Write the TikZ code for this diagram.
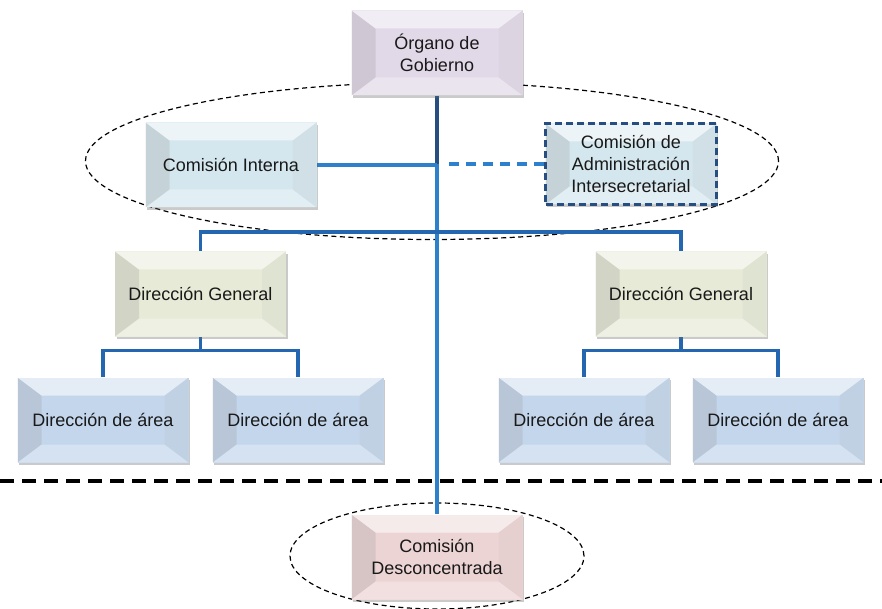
\documentclass[tikz,border=0pt]{standalone}
\usepackage{fontspec}
\setmainfont{Liberation Sans}
\usetikzlibrary{shapes.geometric,shadows,backgrounds}
\definecolor{cOG}{HTML}{E2D9E8}
\definecolor{cCI}{HTML}{D5E7EE}
\definecolor{cDG}{HTML}{E6EAD6}
\definecolor{cDA}{HTML}{C4D6EC}
\definecolor{cCD}{HTML}{EDD4D4}
\definecolor{lineblue}{HTML}{2C80CC}
\definecolor{busblue}{HTML}{2466B0}
\definecolor{navy}{HTML}{264E80}
\tikzset{
  box/.style={rectangle, minimum width=171pt, minimum height=85pt, inner sep=2pt,
    align=center, text=black!90, font=\fontsize{18}{22}\selectfont,
    fill=#1, drop shadow={shadow xshift=1.5pt, shadow yshift=-2.5pt, opacity=0.35, fill=black!60},
    path picture={
      \fill[black!40, opacity=0.25] (path picture bounding box.south west) -- (path picture bounding box.north west)
        -- ([xshift=24pt,yshift=-18pt]path picture bounding box.north west)
        -- ([xshift=24pt,yshift=18pt]path picture bounding box.south west) -- cycle;
      \fill[white, opacity=0.55] (path picture bounding box.north west) -- (path picture bounding box.north east)
        -- ([xshift=-24pt,yshift=-18pt]path picture bounding box.north east)
        -- ([xshift=24pt,yshift=-18pt]path picture bounding box.north west) -- cycle;
      \fill[black!30, opacity=0.12] (path picture bounding box.north east) -- (path picture bounding box.south east)
        -- ([xshift=-24pt,yshift=18pt]path picture bounding box.south east)
        -- ([xshift=-24pt,yshift=-18pt]path picture bounding box.north east) -- cycle;
      \fill[white, opacity=0.3] (path picture bounding box.south west) -- (path picture bounding box.south east)
        -- ([xshift=-24pt,yshift=18pt]path picture bounding box.south east)
        -- ([xshift=24pt,yshift=18pt]path picture bounding box.south west) -- cycle;
    }},
  conn/.style={draw=lineblue, line width=3.6pt},
  bus/.style={draw=busblue, line width=3.6pt},
  dashconn/.style={draw=lineblue, line width=3.6pt, dash pattern=on 10pt off 7pt},
  group/.style={ellipse, draw=black, line width=1.2pt, dash pattern=on 5pt off 3.5pt, inner sep=0pt},
  sep/.style={draw=black, line width=3.6pt, dash pattern=on 14pt off 8pt}
}
\begin{document}
\begin{tikzpicture}[x=1pt, y=-1pt]
\useasboundingbox (0,0) rectangle (882,609);
% boxes
\node[box=cOG] (og) at (437,53) {Órgano de\\Gobierno};
\node[box=cCI] (ci) at (231,165) {Comisión Interna};
\node[box=cCI, minimum height=81pt, draw=navy, line width=2.4pt, dash pattern=on 7pt off 4pt] (cai) at (631,164) {Comisión de\\Administración\\Intersecretarial};
\node[box=cDG] (dg1) at (200.5,294) {Dirección General};
\node[box=cDG] (dg2) at (681,294) {Dirección General};
\node[box=cDA] (da1) at (103,420) {Dirección de área};
\node[box=cDA] (da2) at (298,420) {Dirección de área};
\node[box=cDA] (da3) at (584,420) {Dirección de área};
\node[box=cDA] (da4) at (778,420) {Dirección de área};
\node[box=cCD] (cd) at (437,557) {Comisión\\Desconcentrada};
\begin{scope}[on background layer]
  % groups
  \node[group, minimum width=693pt, minimum height=157pt] (g1) at (432,161) {};
  \node[group, minimum width=294pt, minimum height=106pt] (g2) at (437,556) {};
  % separator
  \coordinate (sl) at (0,481);
  \coordinate (sr) at (882,481);
  \draw[sep] (sl) -- (sr);
  % connectors
  \draw[conn] (og.south) -- (cd.north);
  \draw[draw=navy, line width=3.6pt] (og.south) -- ++(0,68);
  \draw[conn] (ci.east) -- (ci.east -| og.south);
  \draw[dashconn] (cai.west) -- ([xshift=8pt]cai.west -| og.south);
  \draw[bus] (dg1.north) -- ++(0,-19) -| (dg2.north);
  \draw[bus] (dg1.south) -- ++(0,14);
  \draw[bus] (da1.north) -- ++(0,-27) -| (da2.north);
  \draw[bus] (dg2.south) -- ++(0,14);
  \draw[bus] (da3.north) -- ++(0,-27) -| (da4.north);
\end{scope}
\end{tikzpicture}
\end{document}
